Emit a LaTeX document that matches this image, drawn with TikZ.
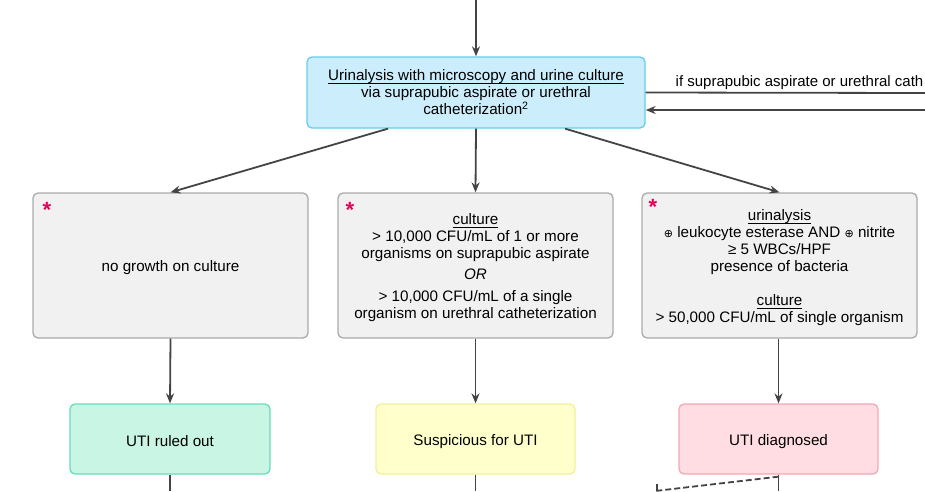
\documentclass[tikz,border=0pt]{standalone}
\usepackage{fontspec}
\setmainfont{Liberation Sans}
\newfontfamily\dejavu{DejaVu Sans}
\usetikzlibrary{arrows.meta}
\definecolor{linec}{HTML}{444444}
\definecolor{bluefill}{HTML}{CCEEFC}
\definecolor{blueline}{HTML}{66CCEE}
\definecolor{grayfill}{HTML}{F1F1F1}
\definecolor{grayline}{HTML}{AAAAAA}
\definecolor{greenfill}{HTML}{C8F5E4}
\definecolor{greenline}{HTML}{66DDBB}
\definecolor{yellowfill}{HTML}{FFFFCC}
\definecolor{yellowline}{HTML}{F2F09A}
\definecolor{pinkfill}{HTML}{FFDDE3}
\definecolor{pinkline}{HTML}{F2A8B5}
\definecolor{starred}{HTML}{E8005A}
\newcommand{\myul}[1]{\setbox0\hbox{#1}\rlap{\rule[-2.2pt]{\wd0}{0.6pt}}\box0}
\newcommand{\tup}{\rule{0pt}{16pt}}
\begin{document}
\begin{tikzpicture}[x=1pt,y=-1pt,
  boxbase/.style={draw, rounded corners=5pt, line width=1.3pt, align=center, inner sep=0pt,
    font=\fontsize{15.2}{17}\selectfont},
  bluebox/.style={boxbase, fill=bluefill, draw=blueline, minimum width=338pt, minimum height=71pt},
  graybox/.style={boxbase, fill=grayfill, draw=grayline, minimum width=275pt, minimum height=145pt},
  greenbox/.style={boxbase, fill=greenfill, draw=greenline, minimum width=200pt, minimum height=70pt},
  yellowbox/.style={boxbase, fill=yellowfill, draw=yellowline, minimum width=199pt, minimum height=70pt},
  pinkbox/.style={boxbase, fill=pinkfill, draw=pinkline, minimum width=199pt, minimum height=70pt},
  conn/.style={draw=linec, line width=1.8pt},
  arr/.style={conn, -{Stealth[length=10pt,width=8pt]}},
  star/.style={text=starred, font=\fontsize{22}{22}\selectfont\bfseries, inner sep=0pt, anchor=north},
  lbl/.style={font=\fontsize{15}{17}\selectfont, inner sep=0pt, anchor=base east}
]
\useasboundingbox (0,0) rectangle (925,491);
\clip (0,0) rectangle (925,491);

\node[bluebox] (top) at (476,92.5) {\myul{Urinalysis with microscopy and urine culture}\\ via suprapubic aspirate or urethral\\ catheterization\textsuperscript{2}};

\node[graybox] (b1) at (170.5,265.5) {\tup no growth on culture};
\node[graybox] (b2) at (475.5,265.5) {\tup\myul{culture}\\ > 10,000 CFU/mL of 1 or more\\ organisms on suprapubic aspirate\\[4pt] \textit{OR}\\[5pt] > 10,000 CFU/mL of a single\\ organism on urethral catheterization};
\node[graybox] (b3) at (779.5,265.5) {\tup\myul{urinalysis}\\ {\dejavu\fontsize{11}{17}\selectfont ⊕} leukocyte esterase AND {\dejavu\fontsize{11}{17}\selectfont ⊕} nitrite\\ ≥ 5 WBCs/HPF\\ presence of bacteria\\[17pt] \myul{culture}\\ > 50,000 CFU/mL of single organism};

\node[star] (s1) at (47,202) {*};
\node[star] (s2) at (350,202) {*};
\node[star] (s3) at (653,199) {*};

\node[greenbox] (g) at (170,439) {\tup UTI ruled out};
\node[yellowbox] (y) at (475.5,439) {\tup Suspicious for UTI};
\node[pinkbox] (p) at (778.5,439) {\tup UTI diagnosed};

\coordinate (topin) at (476,0);
\coordinate (rout) at (925,93);
\coordinate (rin) at (925,110);
\coordinate (bot) at (0,491);
\coordinate (dend) at (655,491);
\coordinate (tick) at (657,484);

\draw[arr] (topin) -- (top.north);
\draw[conn] (top.east) -- (rout);
\draw[arr] (rin) -- ([yshift=-17.5pt]top.east);
\node[lbl] (rl) at (923.5,86) {if suprapubic aspirate or urethral cath};

\draw[arr] ([xshift=-88pt]top.south) -- (b1.north);
\draw[arr] (top.south) -- (b2.north);
\draw[arr] ([xshift=89pt]top.south) -- (b3.north);

\draw[arr] (b1.south) -- (g.north);
\draw[arr] (b2.south) -- (y.north);
\draw[arr] (b3.south -| p.north) -- (p.north);

\draw[conn] (g.south) -- (g.south |- bot);
\draw[conn] (y.south) -- (y.south |- bot);
\draw[conn] (p.south) -- (p.south |- bot);
\draw[conn, dashed, dash pattern=on 6pt off 3pt] ([yshift=-2pt]p.south) -- (dend);
\draw[conn, line width=1.2pt] (tick) -- (tick |- bot);
\end{tikzpicture}
\end{document}
